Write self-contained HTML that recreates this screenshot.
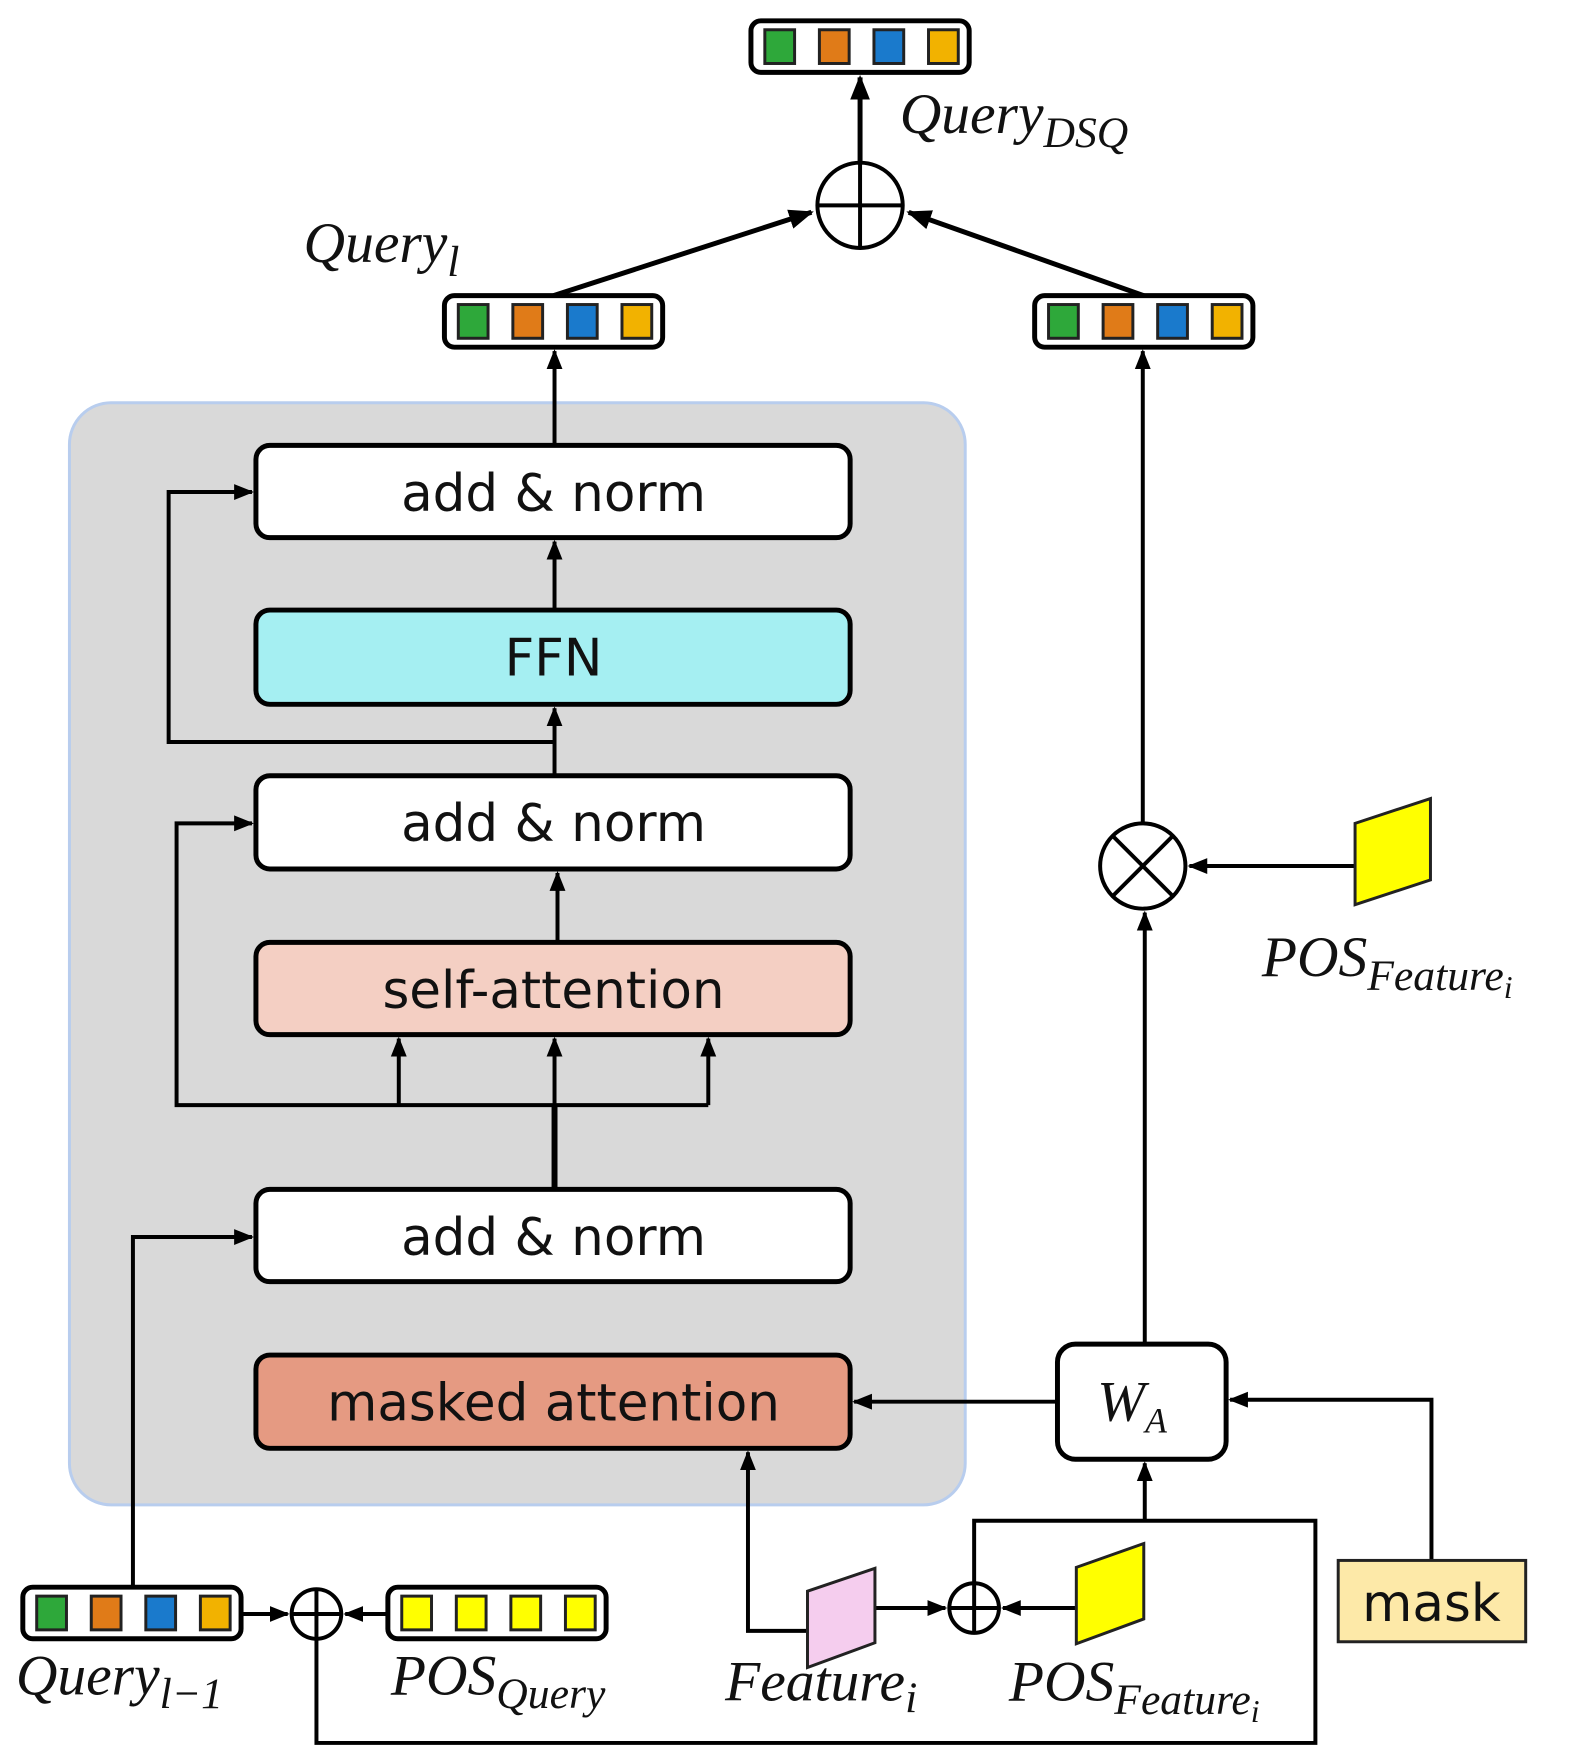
<!DOCTYPE html>
<html><head><meta charset="utf-8"><style>
html,body{margin:0;padding:0;background:#fff}
svg{display:block}
text{font-family:"Liberation Serif",serif}
.bt{font-family:"DejaVu Sans","Liberation Sans",sans-serif;font-size:52px;fill:#111;text-anchor:middle}
.lb{font-style:italic;font-size:58px;fill:#111}
.sb{font-style:italic;font-size:44px}
</style></head><body>
<svg width="1571" height="1764" viewBox="0 0 1571 1764" xmlns="http://www.w3.org/2000/svg">
<defs>
<marker id="a" viewBox="0 0 10 10" refX="9" refY="5" markerWidth="5" markerHeight="5" orient="auto-start-reverse" markerUnits="strokeWidth"><path d="M0,1 L10,5 L0,9 z" fill="#000"/></marker>
<g id="vec">
<rect x="0" y="0" width="220" height="52" rx="10" fill="#fff" stroke="#000" stroke-width="5"/>
<rect x="14" y="9" width="30" height="34" fill="#2ea83a" stroke="#222" stroke-width="3"/>
<rect x="69" y="9" width="30" height="34" fill="#e07b18" stroke="#222" stroke-width="3"/>
<rect x="124" y="9" width="30" height="34" fill="#1a7acc" stroke="#222" stroke-width="3"/>
<rect x="179" y="9" width="30" height="34" fill="#f2b200" stroke="#222" stroke-width="3"/>
</g>
</defs>
<g transform="scale(0.992)">
<rect x="70" y="406" width="903" height="1111" rx="42" fill="#d9d9d9" stroke="#b8cdee" stroke-width="3"/>

<g stroke="#000" stroke-width="5">
<rect x="258" y="449" width="599" height="93" rx="14" fill="#fff"/>
<rect x="258" y="615" width="599" height="95" rx="14" fill="#a5eff2"/>
<rect x="258" y="782" width="599" height="94" rx="14" fill="#fff"/>
<rect x="258" y="950" width="599" height="93" rx="14" fill="#f4cfc3"/>
<rect x="258" y="1199" width="599" height="93" rx="14" fill="#fff"/>
<rect x="258" y="1366" width="599" height="94" rx="14" fill="#e59a82"/>
<rect x="1066" y="1355" width="170" height="116" rx="18" fill="#fff"/>
</g>
<text class="bt" x="558" y="515">add &amp; norm</text>
<text class="bt" x="558" y="681">FFN</text>
<text class="bt" x="558" y="848">add &amp; norm</text>
<text class="bt" x="558" y="1016">self-attention</text>
<text class="bt" x="558" y="1265">add &amp; norm</text>
<text class="bt" x="558" y="1432">masked attention</text>
<text class="lb" x="1106" y="1432">W<tspan class="sb" style="font-size:36px" dy="12">A</tspan></text>

<g stroke="#000" stroke-width="4" fill="none">
<line x1="559" y1="449" x2="559" y2="354" marker-end="url(#a)"/>
<line x1="559" y1="615" x2="559" y2="546" marker-end="url(#a)"/>
<line x1="559" y1="782" x2="559" y2="714" marker-end="url(#a)"/>
<polyline points="559,748 170,748 170,496 254,496" marker-end="url(#a)"/>
<line x1="562" y1="950" x2="562" y2="880" marker-end="url(#a)"/>
<line x1="559" y1="1199" x2="559" y2="1114" stroke-width="6"/>
<polyline points="714,1114 178,1114 178,830 254,830" marker-end="url(#a)"/>
<line x1="402" y1="1114" x2="402" y2="1047" marker-end="url(#a)"/>
<line x1="559" y1="1114" x2="559" y2="1047" marker-end="url(#a)"/>
<line x1="714" y1="1114" x2="714" y2="1047" marker-end="url(#a)"/>
<polyline points="134,1598 134,1247 254,1247" marker-end="url(#a)"/>
<line x1="1066" y1="1413" x2="861" y2="1413" marker-end="url(#a)"/>
<polyline points="1443,1573 1443,1411 1240,1411" marker-end="url(#a)"/>
<line x1="1154" y1="1533" x2="1154" y2="1475" marker-end="url(#a)"/>
<polyline points="319,1652 319,1757 1326,1757 1326,1533 982,1533 982,1621"/>
<polyline points="814,1644 754,1644 754,1464" marker-end="url(#a)"/>
<line x1="882" y1="1621" x2="953" y2="1621" marker-end="url(#a)"/>
<line x1="1085" y1="1621" x2="1011" y2="1621" marker-end="url(#a)"/>
<line x1="243" y1="1627" x2="290" y2="1627" marker-end="url(#a)"/>
<line x1="391" y1="1627" x2="348" y2="1627" marker-end="url(#a)"/>
<line x1="1154" y1="1355" x2="1154" y2="920" marker-end="url(#a)"/>
<line x1="1152" y1="830" x2="1152" y2="354" marker-end="url(#a)"/>
<line x1="1366" y1="873" x2="1199" y2="873" marker-end="url(#a)"/>
<line x1="558" y1="298" x2="818" y2="214" stroke-width="5" marker-end="url(#a)"/>
<line x1="1153" y1="298" x2="916" y2="214" stroke-width="5" marker-end="url(#a)"/>
<line x1="867" y1="164" x2="867" y2="78" stroke-width="5" marker-end="url(#a)"/>
</g>

<g stroke="#000" stroke-width="4" fill="#fff">
<circle cx="867" cy="207" r="43"/>
<line x1="824" y1="207" x2="910" y2="207"/><line x1="867" y1="164" x2="867" y2="250"/>
<circle cx="1152" cy="873" r="43"/>
<line x1="1122" y1="843" x2="1182" y2="903"/><line x1="1182" y1="843" x2="1122" y2="903"/>
<circle cx="319" cy="1627" r="25"/>
<line x1="294" y1="1627" x2="344" y2="1627"/><line x1="319" y1="1602" x2="319" y2="1652"/>
<circle cx="982" cy="1621" r="25"/>
<line x1="957" y1="1621" x2="1007" y2="1621"/><line x1="982" y1="1596" x2="982" y2="1646"/>
</g>

<use href="#vec" x="757" y="21"/>
<use href="#vec" x="448" y="298"/>
<use href="#vec" x="1043" y="298"/>
<use href="#vec" x="23" y="1600"/>
<g>
<rect x="391" y="1600" width="220" height="52" rx="10" fill="#fff" stroke="#000" stroke-width="5"/>
<rect x="405" y="1609" width="30" height="34" fill="#ffff00" stroke="#222" stroke-width="3"/>
<rect x="460" y="1609" width="30" height="34" fill="#ffff00" stroke="#222" stroke-width="3"/>
<rect x="515" y="1609" width="30" height="34" fill="#ffff00" stroke="#222" stroke-width="3"/>
<rect x="570" y="1609" width="30" height="34" fill="#ffff00" stroke="#222" stroke-width="3"/>
</g>

<g stroke="#222" stroke-width="3">
<polygon points="814,1604 882,1581 882,1656 814,1681" fill="#f5cdee"/>
<polygon points="1085,1580 1153,1556 1153,1632 1085,1657" fill="#ffff00"/>
<polygon points="1366,830 1442,805 1442,887 1366,912" fill="#ffff00"/>
</g>
<rect x="1349" y="1573" width="189" height="82" fill="#fde9a8" stroke="#222" stroke-width="3"/>
<text class="bt" x="1443" y="1634">mask</text>

<text class="lb" x="907" y="134">Query<tspan class="sb" dy="14">DSQ</tspan></text>
<text class="lb" x="306" y="264">Query<tspan class="sb" dy="14">l</tspan></text>
<text class="lb" x="1272" y="984">POS<tspan class="sb" dy="14">Feature</tspan><tspan class="sb" style="font-size:32px" dy="8">i</tspan></text>
<text class="lb" x="16" y="1708">Query<tspan class="sb" dy="14">l−1</tspan></text>
<text class="lb" x="394" y="1708">POS<tspan class="sb" dy="14">Query</tspan></text>
<text class="lb" x="731" y="1714">Feature<tspan class="sb" dy="12">i</tspan></text>
<text class="lb" x="1017" y="1714">POS<tspan class="sb" dy="14">Feature</tspan><tspan class="sb" style="font-size:32px" dy="8">i</tspan></text>
</g>
</svg>
</body></html>
